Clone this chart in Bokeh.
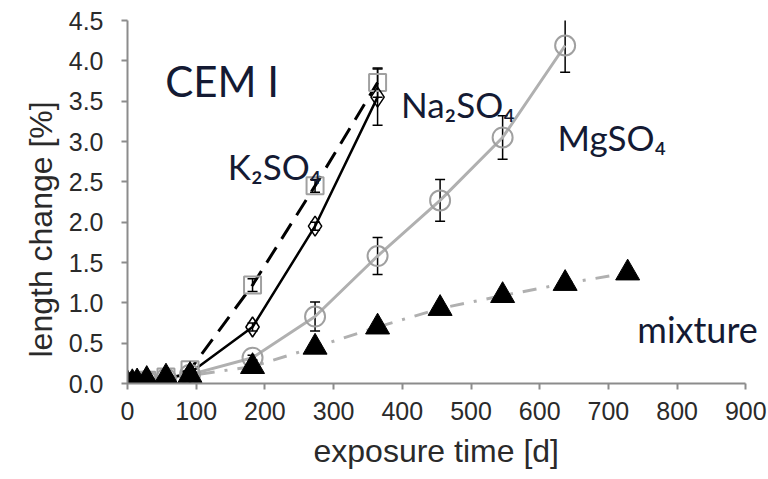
from bokeh.plotting import figure
from bokeh.models import ColumnDataSource, Whisker, TeeHead, Range1d, FixedTicker, Label, Title
from bokeh.embed import file_html
from bokeh.resources import INLINE

# ---- data ----
days_k = [0, 7, 14, 28, 56, 91, 182, 273, 364]
k2so4 = [0.0, 0.01, 0.02, 0.04, 0.08, 0.17, 1.22, 2.45, 3.73]
k2so4_err = [0, 0, 0, 0, 0, 0, 0.08, 0.08, 0.18]

days_na = [0, 7, 14, 28, 56, 91, 182, 273, 364]
na2so4 = [0.0, 0.01, 0.02, 0.03, 0.06, 0.13, 0.70, 1.95, 3.55]
na2so4_err = [0, 0, 0, 0, 0, 0, 0.05, 0.05, 0.35]

days_mg = [0, 7, 14, 28, 56, 91, 182, 273, 364, 455, 546, 637]
mgso4 = [0.0, 0.01, 0.02, 0.03, 0.06, 0.11, 0.32, 0.83, 1.58, 2.27, 3.05, 4.19]
mgso4_err = [0, 0, 0, 0, 0, 0, 0.03, 0.18, 0.23, 0.26, 0.27, 0.33]

days_mix = [0, 7, 14, 28, 56, 91, 182, 273, 364, 455, 546, 637, 728]
mixture = [0.0, 0.01, 0.02, 0.05, 0.08, 0.10, 0.21, 0.45, 0.70, 0.93, 1.09, 1.24, 1.37]

x_ticks = [0, 100, 200, 300, 400, 500, 600, 700, 800, 900]
y_ticks = [0.0, 0.5, 1.0, 1.5, 2.0, 2.5, 3.0, 3.5, 4.0, 4.5]

labels = ["CEM I", "K₂SO₄", "Na₂SO₄", "MgSO₄", "mixture"]
label_x = [55, 146, 398, 626, 742]
label_y = [3.75, 2.70, 3.47, 3.05, 0.68]
label_size = ["42px", "35px", "35px", "35px", "36px"]

x_title = "exposure time [d]"
y_title = "length change [%]"

p = figure(width=768, height=479, output_backend="svg", toolbar_location=None,
           x_range=Range1d(0, 933), y_range=Range1d(0, 4.5),
           min_border_left=127, min_border_right=0, min_border_top=20, min_border_bottom=96)
p.outline_line_color = None
p.xgrid.visible = False
p.ygrid.visible = False
p.background_fill_color = "white"

for ax in (p.xaxis[0], p.yaxis[0]):
    ax.axis_line_color = "#8c8c8c"
    ax.axis_line_width = 2
    ax.major_tick_line_color = "#8c8c8c"
    ax.major_tick_line_width = 2
    ax.major_tick_in = 0
    ax.major_tick_out = 6
    ax.minor_tick_line_color = None
    ax.major_label_text_font = "Liberation Sans"
    ax.major_label_text_font_size = "25px"
    ax.major_label_text_color = "#2a2a2a"

p.xaxis.bounds = (0, 900)
p.xaxis.ticker = FixedTicker(ticks=x_ticks)
p.yaxis.ticker = FixedTicker(ticks=y_ticks)
p.yaxis.major_label_overrides = {t: f"{t:.1f}" for t in y_ticks}
p.xaxis.major_label_standoff = 12
p.yaxis.major_label_standoff = 18

p.add_layout(Title(text=x_title, align="left", offset=186, standoff=16,
                   text_font="Liberation Sans", text_font_size="32px",
                   text_font_style="normal", text_color="#2a2a2a"), "below")
p.add_layout(Title(text=y_title, align="left", offset=26, standoff=14,
                   text_font="Liberation Sans", text_font_size="32px",
                   text_font_style="normal", text_color="#2a2a2a"), "left")

src_k = ColumnDataSource(dict(x=days_k, y=k2so4,
                              up=[a + b for a, b in zip(k2so4, k2so4_err)],
                              lo=[a - b for a, b in zip(k2so4, k2so4_err)]))
src_na = ColumnDataSource(dict(x=days_na, y=na2so4,
                               up=[a + b for a, b in zip(na2so4, na2so4_err)],
                               lo=[a - b for a, b in zip(na2so4, na2so4_err)]))
src_mg = ColumnDataSource(dict(x=days_mg, y=mgso4,
                               up=[a + b for a, b in zip(mgso4, mgso4_err)],
                               lo=[a - b for a, b in zip(mgso4, mgso4_err)]))
src_mix = ColumnDataSource(dict(x=days_mix, y=mixture))

grey = "#b0b0b0"

# lines
p.line("x", "y", source=src_mix, line_color=grey, line_width=3, line_dash="14 10 3 10")
p.line("x", "y", source=src_mg, line_color=grey, line_width=3)
p.line("x", "y", source=src_na, line_color="black", line_width=2.5)
p.line("x", "y", source=src_k, line_color="black", line_width=3, line_dash="18 10")

# markers
p.scatter("x", "y", source=src_mg, marker="circle", size=20, fill_color="white",
          fill_alpha=0.0, line_color="#a0a0a0", line_width=2)
p.scatter("x", "y", source=src_k, marker="square", size=17, fill_color="white",
          fill_alpha=0.0, line_color="#a0a0a0", line_width=2)
p.scatter("x", "y", source=src_na, marker="diamond", size=20, fill_color="white",
          fill_alpha=0.0, line_color="black", line_width=1.5)
p.scatter("x", "y", source=src_mix, marker="triangle", size=24, fill_color="black",
          line_color="black")

# error bars
for src in (src_mg, src_k, src_na):
    w = Whisker(source=src, base="x", upper="up", lower="lo", line_color="black", line_width=1.5,
                upper_head=TeeHead(size=10, line_color="black", line_width=1.5),
                lower_head=TeeHead(size=10, line_color="black", line_width=1.5))
    p.add_layout(w)

for t, x, y, s in zip(labels, label_x, label_y, label_size):
    p.add_layout(Label(x=x, y=y, text=t, text_font="Lato", text_font_size=s,
                       text_color="#141a33", text_baseline="alphabetic", text_align="left"))

open("out.html", "w").write(file_html(p, INLINE))
